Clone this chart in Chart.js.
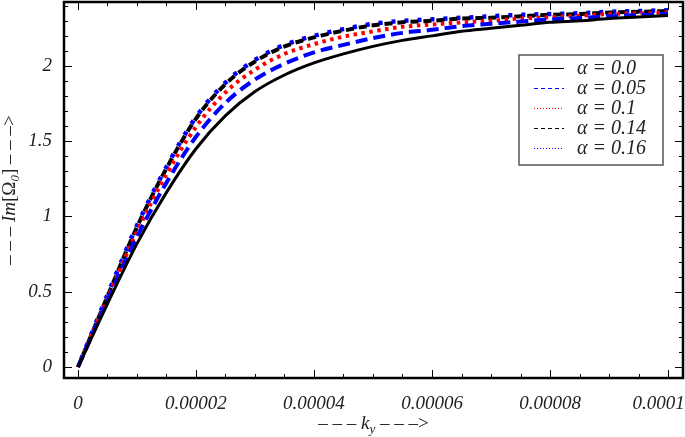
<!DOCTYPE html>
<html>
<head>
<meta charset="utf-8">
<script src="https://cdn.jsdelivr.net/npm/chart.js@4.4.1/dist/chart.umd.min.js"></script>
<style>
  html, body { margin: 0; padding: 0; background: #fff; }
  #wrap { width: 685px; height: 437px; }
</style>
</head>
<body>
<div id="wrap"><canvas id="chart" width="685" height="437"></canvas></div>
<script>
// k_y sample points
const kValues = [0, 0.000005, 0.00001, 0.000015, 0.00002, 0.000025, 0.00003, 0.000035, 0.00004, 0.000045,
    0.00005, 0.000055, 0.00006, 0.000065, 0.00007, 0.000075, 0.00008, 0.000085, 0.00009, 0.000095, 0.0001];

// Im[Omega_0] for each alpha
const alpha00 = [0, 0.42, 0.82, 1.16, 1.45, 1.67, 1.83, 1.94, 2.02, 2.08, 2.13, 2.17, 2.20, 2.23, 2.25, 2.27, 2.29, 2.30, 2.315, 2.325, 2.335];
const alpha005 = [0, 0.44, 0.865, 1.225, 1.53, 1.755, 1.91, 2.015, 2.09, 2.14, 2.185, 2.22, 2.24, 2.265, 2.28, 2.295, 2.31, 2.318, 2.33, 2.338, 2.347];
const alpha01 = [0, 0.455, 0.90, 1.28, 1.595, 1.825, 1.975, 2.08, 2.145, 2.195, 2.23, 2.26, 2.275, 2.29, 2.30, 2.315, 2.325, 2.333, 2.345, 2.35, 2.355];
const alpha014 = [0, 0.47, 0.93, 1.32, 1.65, 1.88, 2.03, 2.13, 2.19, 2.235, 2.27, 2.29, 2.30, 2.315, 2.32, 2.33, 2.34, 2.345, 2.355, 2.36, 2.365];
const alpha016 = [0, 0.48, 0.94, 1.33, 1.66, 1.89, 2.04, 2.14, 2.20, 2.245, 2.28, 2.30, 2.31, 2.32, 2.33, 2.34, 2.345, 2.35, 2.36, 2.365, 2.37];

const seriesLabels = ['α = 0.0', 'α = 0.05', 'α = 0.1', 'α = 0.14', 'α = 0.16'];

// tick positions
const xMajorTicks = [0, 0.00002, 0.00004, 0.00006, 0.00008, 0.0001];
const yMajorTicks = [0, 0.5, 1, 1.5, 2];

const SERIF = "'Liberation Serif', 'DejaVu Serif', serif";
const DASHES = '– – –';

function toPoints(values) {
    return kValues.map((k, i) => ({ x: k, y: values[i] }));
}

// line styles for plot and legend
const styles = [
    { color: '#000000', width: 3,   dash: [],         offset: 0,   legendDash: [] },
    { color: '#0000ff', width: 4,   dash: [12, 6],    offset: 0,   legendDash: [4, 3] },
    { color: '#ff0000', width: 4,   dash: [3.5, 4.5], offset: 0,   legendDash: [1, 2] },
    { color: '#000000', width: 4,   dash: [8, 5],     offset: 0,   legendDash: [4, 3] },
    // dots fall into the gaps of the black dashes
    { color: '#0000ff', width: 4.5, dash: [4, 9],     offset: 4.5, legendDash: [1, 2] }
];

const seriesData = [alpha00, alpha005, alpha01, alpha014, alpha016];

// draw a string made of several font pieces, centred on x
function drawRich(ctx, parts, x, y) {
    let total = 0;
    parts.forEach(p => { ctx.font = p.font; p.w = ctx.measureText(p.t).width; total += p.w; });
    let cx = x - total / 2;
    ctx.textBaseline = 'alphabetic';
    ctx.textAlign = 'left';
    parts.forEach(p => {
        ctx.font = p.font;
        ctx.fillText(p.t, cx, y + (p.dy || 0));
        cx += p.w;
    });
}

// no extra room for half labels at the ends of the axes
function noEndPadding(scale) {
    scale.paddingLeft = 0;
    scale.paddingRight = 0;
    scale.paddingTop = 0;
    scale.paddingBottom = 0;
}

const framePlugin = {
    id: 'frame',
    afterDatasetsDraw(chart) {
        const ctx = chart.ctx;
        const a = chart.chartArea;
        const xs = chart.scales.x, ys = chart.scales.y;
        ctx.save();
        ctx.strokeStyle = '#000';
        ctx.lineWidth = 1;
        ctx.setLineDash([]);
        ctx.beginPath();
        // x ticks (major every 2e-5, minor every 5e-6), bottom and top
        for (let i = 0; i <= 20; i++) {
            const px = Math.round(xs.getPixelForValue(i * 0.000005)) + 0.5;
            const len = i % 4 === 0 ? 8 : 4;
            ctx.moveTo(px, a.bottom); ctx.lineTo(px, a.bottom - len);
            ctx.moveTo(px, a.top); ctx.lineTo(px, a.top + len);
        }
        // y ticks (major every 0.5, minor every 0.1), left and right
        for (let i = 0; i <= 24; i++) {
            const py = Math.round(ys.getPixelForValue(i * 0.1)) + 0.5;
            const len = i % 5 === 0 ? 8 : 4;
            ctx.moveTo(a.left, py); ctx.lineTo(a.left + len, py);
            ctx.moveTo(a.right, py); ctx.lineTo(a.right - len, py);
        }
        ctx.stroke();
        ctx.lineWidth = 2.5;
        ctx.strokeRect(a.left, a.top, a.right - a.left, a.bottom - a.top);
        ctx.restore();
    },
    afterDraw(chart) {
        const ctx = chart.ctx;
        const a = chart.chartArea;
        ctx.save();
        ctx.fillStyle = '#222';

        // x axis title
        drawRich(ctx, [
            { t: DASHES + ' ', font: '19px ' + SERIF },
            { t: 'k', font: 'italic 19px ' + SERIF },
            { t: 'y', font: 'italic 13px ' + SERIF, dy: 4 },
            { t: ' ' + DASHES + '>', font: '19px ' + SERIF }
        ], (a.left + a.right) / 2, 429);

        // y axis title, rotated
        ctx.save();
        ctx.translate(15, (a.top + a.bottom) / 2);
        ctx.rotate(-Math.PI / 2);
        drawRich(ctx, [
            { t: DASHES + ' ', font: '19px ' + SERIF },
            { t: 'Im', font: 'italic 19px ' + SERIF },
            { t: '[Ω', font: '19px ' + SERIF },
            { t: '0', font: 'italic 13px ' + SERIF, dy: 4 },
            { t: ']', font: '19px ' + SERIF },
            { t: ' ' + DASHES + '>', font: '19px ' + SERIF }
        ], 0, 0);
        ctx.restore();

        // legend box
        const bx = 519, by = 55, bw = 144, bh = 110;
        ctx.fillStyle = '#fff';
        ctx.fillRect(bx, by, bw, bh);
        ctx.strokeStyle = '#555';
        ctx.lineWidth = 1.5;
        ctx.strokeRect(bx, by, bw, bh);
        chart.data.datasets.forEach((ds, i) => {
            const y = by + 13 + i * 20;
            ctx.strokeStyle = styles[i].color;
            ctx.lineWidth = 1;
            ctx.setLineDash(styles[i].legendDash);
            ctx.beginPath();
            ctx.moveTo(bx + 15, y + 0.5);
            ctx.lineTo(bx + 45, y + 0.5);
            ctx.stroke();
            ctx.setLineDash([]);
            ctx.fillStyle = '#222';
            ctx.font = 'italic 20px ' + SERIF;
            ctx.textAlign = 'left';
            ctx.textBaseline = 'middle';
            ctx.fillText(ds.label, bx + 58, y + 1);
        });
        ctx.restore();
    }
};

new Chart(document.getElementById('chart').getContext('2d'), {
    type: 'line',
    data: {
        datasets: seriesData.map((vals, i) => ({
            label: seriesLabels[i],
            data: toPoints(vals),
            borderColor: styles[i].color,
            borderWidth: styles[i].width,
            borderDash: styles[i].dash,
            borderDashOffset: styles[i].offset,
            borderCapStyle: 'butt',
            pointRadius: 0,
            fill: false,
            cubicInterpolationMode: 'monotone'
        }))
    },
    options: {
        responsive: false,
        animation: false,
        layout: { padding: { top: 2, right: 2, left: 0, bottom: 0 } },
        plugins: {
            legend: { display: false },
            tooltip: { enabled: false }
        },
        scales: {
            x: {
                type: 'linear',
                min: -0.00000237,
                max: 0.00010254,
                grid: { display: false },
                border: { display: false },
                afterBuildTicks: (scale) => { scale.ticks = xMajorTicks.map(v => ({ value: v })); },
                afterFit: (scale) => { scale.height = 59; noEndPadding(scale); },
                ticks: {
                    color: '#222',
                    padding: 7,
                    maxRotation: 0,
                    autoSkip: false,
                    font: { family: SERIF, size: 19, style: 'italic' },
                    // last label nudged left so it stays inside the picture
                    callback: (v) => {
                        if (v === 0) return '0';
                        const s = Number(v).toFixed(5).replace(/0+$/, '');
                        return v >= 0.0001 ? s + '\u2003' : s;
                    }
                }
            },
            y: {
                min: -0.073,
                max: 2.425,
                grid: { display: false },
                border: { display: false },
                afterBuildTicks: (scale) => { scale.ticks = yMajorTicks.map(v => ({ value: v })); },
                afterFit: (scale) => { scale.width = 64; noEndPadding(scale); },
                ticks: {
                    color: '#222',
                    padding: 4,
                    autoSkip: false,
                    font: { family: SERIF, size: 19, style: 'italic' },
                    callback: (v) => String(v)
                }
            }
        }
    },
    plugins: [framePlugin]
});
</script>
</body>
</html>
